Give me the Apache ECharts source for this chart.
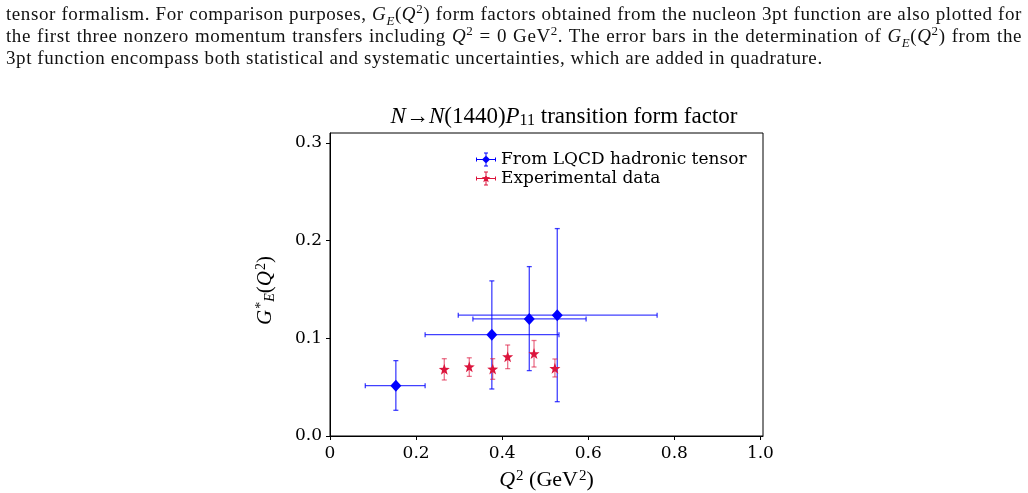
<!DOCTYPE html>
<html>
<head>
<meta charset="utf-8">
<script src="https://cdn.jsdelivr.net/npm/echarts@6/dist/echarts.min.js"></script>
<style>
  html, body { margin: 0; padding: 0; background: #fff; }
  #main { position: absolute; left: 0; top: 0; width: 1028px; height: 493px; }
  #para { position: absolute; left: 6px; top: 3px; width: 1016px; z-index: 2;
          font-family: "Liberation Serif", serif; font-size: 19px; letter-spacing: 0.58px;
          line-height: 22px; color: #111; }
  #para div { text-align: justify; text-align-last: justify; }
  #para div.last { text-align-last: left; }
  #para i { font-style: italic; }
  #para sub, #para sup { font-size: 13px; line-height: 0; }
</style>
</head>
<body>
<div id="para">
  <div>tensor formalism. For comparison purposes, <i>G</i><sub><i>E</i></sub>(<i>Q</i><sup>2</sup>) form factors obtained from the nucleon 3pt function are also plotted for</div>
  <div>the first three nonzero momentum transfers including <i>Q</i><sup>2</sup> = 0 GeV<sup>2</sup>. The error bars in the determination of <i>G</i><sub><i>E</i></sub>(<i>Q</i><sup>2</sup>) from the</div>
  <div class="last">3pt function encompass both statistical and systematic uncertainties, which are added in quadrature.</div>
</div>
<div id="main"></div>
<script>
//数据: LQCD hadronic tensor
var lqcdQ2   = [0.153, 0.376, 0.463, 0.528];
var lqcdG    = [0.0515, 0.1037, 0.1198, 0.1236];
var lqcdQ2Lo = [0.082, 0.221, 0.332, 0.298];
var lqcdQ2Hi = [0.221, 0.532, 0.595, 0.760];
var lqcdGLo  = [0.0263, 0.0481, 0.0669, 0.0351];
var lqcdGHi  = [0.0771, 0.1587, 0.1733, 0.2122];

//数据: experimental
var expQ2  = [0.2655, 0.3236, 0.378, 0.4128, 0.474, 0.5225];
var expG   = [0.0683, 0.0709, 0.0686, 0.0812, 0.0843, 0.0692];
var expGLo = [0.0573, 0.0610, 0.0580, 0.0689, 0.0706, 0.0604];
var expGHi = [0.0791, 0.0800, 0.0791, 0.0931, 0.0977, 0.0788];

var xTicks = [0, 0.2, 0.4, 0.6, 0.8, 1.0];
var yTicks = [0, 0.1, 0.2, 0.3];

var BLUE = '#0000ff', RED = '#dc143c';
var starPath = 'path://M10,3L10.94,5.71L13.8,5.76L11.52,7.49L12.35,10.24L10,8.6L7.65,10.24L8.48,7.49L6.2,5.76L9.06,5.71Z';
var crossPath = 'M0,6.5h20v1h-20ZM9.5,0h1v14h-1ZM0,5h1v4h-1ZM19,5h1v4h-1ZM8,0h4v1h-4ZM8,13h4v1h-4Z';
var legendBlue = 'path://' + crossPath + 'M10,3L14,7L10,11L6,7Z';
var legendRed = 'path://' + crossPath + 'M10,2.5L11.1,5.6L14.3,5.7L11.8,7.6L12.7,10.7L10,8.9L7.3,10.7L8.2,7.6L5.7,5.7L8.9,5.6Z';

function zipErr(x, y, xlo, xhi, ylo, yhi){
    var arr = [];
    for(var i = 0;i<x.length;i++){
        arr.push([x[i], y[i], xlo ? xlo[i] : x[i], xhi ? xhi[i] : x[i], ylo[i], yhi[i]]);
    }
    return arr;
}
function zipXY(x, y){
    var arr = [];
    for(var i = 0;i<x.length;i++){
        arr.push([x[i], y[i]]);
    }
    return arr;
}

// 误差棒
function errRender(color, opacity, cap){
    return function(params, api){
        var c = api.coord([api.value(0), api.value(1)]);
        var l = api.coord([api.value(2), api.value(1)]);
        var r = api.coord([api.value(3), api.value(1)]);
        var b = api.coord([api.value(0), api.value(4)]);
        var t = api.coord([api.value(0), api.value(5)]);
        var st = {stroke: color, lineWidth: 1.3, opacity: opacity};
        var kids = [
            {type: 'line', shape: {x1: c[0], y1: b[1], x2: c[0], y2: t[1]}, style: st},
            {type: 'line', shape: {x1: c[0]-cap, y1: b[1], x2: c[0]+cap, y2: b[1]}, style: st},
            {type: 'line', shape: {x1: c[0]-cap, y1: t[1], x2: c[0]+cap, y2: t[1]}, style: st}
        ];
        if(r[0] - l[0] > 0.5){
            kids.push({type: 'line', shape: {x1: l[0], y1: c[1], x2: r[0], y2: c[1]}, style: st});
            kids.push({type: 'line', shape: {x1: l[0], y1: c[1]-cap, x2: l[0], y2: c[1]+cap}, style: st});
            kids.push({type: 'line', shape: {x1: r[0], y1: c[1]-cap, x2: r[0], y2: c[1]+cap}, style: st});
        }
        return {type: 'group', children: kids};
    };
}

var serif = 'DejaVu Serif';
var latex = 'Liberation Serif';

function richSet(size){
    return {
        n: {fontFamily: latex, fontSize: size, fontWeight: 'normal', color: '#000', lineHeight: 26},
        i: {fontFamily: latex, fontSize: size, fontWeight: 'normal', fontStyle: 'italic', color: '#000', lineHeight: 26},
        sup: {fontFamily: latex, fontSize: Math.round(size*0.68), fontWeight: 'normal', color: '#000', verticalAlign: 'top', lineHeight: 26, padding: [2, 0, 0, 1]},
        sub: {fontFamily: latex, fontSize: Math.round(size*0.68), fontWeight: 'normal', color: '#000', verticalAlign: 'bottom', lineHeight: 26, padding: [0, 0, 1, 0]},
        subi: {fontFamily: latex, fontSize: Math.round(size*0.68), fontWeight: 'normal', fontStyle: 'italic', color: '#000', verticalAlign: 'bottom', lineHeight: 26, padding: [0, 0, 1, 0]}
    };
}

var myChart = echarts.init(document.getElementById('main'));
var option = {
    animation: false,
    title: {
        text: '{i|N}{n|→}{i|N}{n|(1440)}{i|P}{sub|11}{n| transition form factor}',
        left: 559,
        top: 99,
        textAlign: 'center',
        textStyle: {fontWeight: 'normal', rich: richSet(23)}
    },
    legend: {
        orient: 'vertical',
        left: 471,
        top: 146,
        itemWidth: 20,
        itemHeight: 14,
        itemGap: 2,
        textStyle: {fontFamily: serif, fontSize: 17, color: '#000'},
        data: [
            {name: 'From LQCD hadronic tensor', icon: legendBlue, itemStyle: {color: BLUE}},
            {name: 'Experimental data', icon: legendRed, itemStyle: {color: RED}}
        ]
    },
    grid: {
        left: 330,
        top: 133,
        width: 433,
        height: 303,
        outerBoundsMode: 'none',
        containLabel: false,
        show: true,
        borderColor: '#000',
        borderWidth: 1
    },
    xAxis: {
        type: 'value',
        min: 0,
        max: 1.006,
        interval: 0.2,
        axisLine: {show: true, lineStyle: {color: '#000', width: 1}},
        axisTick: {show: true, length: 4, lineStyle: {color: '#000'}, customValues: xTicks},
        splitLine: {show: false},
        axisLabel: {
            customValues: xTicks,
            margin: 9,
            fontFamily: serif, fontSize: 17, color: '#000',
            formatter: function(v){ return v === 0 ? '0' : v.toFixed(1); }
        },
        name: '{i|Q}{sup|2}{n| (GeV}{sup|2}{n|)}',
        nameLocation: 'middle',
        nameGap: 24,
        nameTextStyle: {rich: richSet(22)}
    },
    yAxis: {
        type: 'value',
        min: 0,
        max: 0.31,
        interval: 0.1,
        axisLine: {show: true, lineStyle: {color: '#000', width: 1}},
        axisTick: {show: true, length: 4, lineStyle: {color: '#000'}, customValues: yTicks},
        splitLine: {show: false},
        axisLabel: {
            customValues: yTicks,
            margin: 8,
            fontFamily: serif, fontSize: 17, color: '#000',
            formatter: function(v){ return v.toFixed(1); }
        },
        name: '{i|G}{sup|*}{subi|E}{n|(}{i|Q}{sup|2}{n|)}',
        nameLocation: 'middle',
        nameRotate: 90,
        nameGap: 52,
        nameTextStyle: {padding: [0, 12, 0, 0], rich: richSet(21)}
    },
    series: [
        {
            name: 'From LQCD hadronic tensor',
            type: 'custom',
            renderItem: errRender(BLUE, 0.75, 2.5),
            encode: {x: [0, 2, 3], y: [1, 4, 5]},
            data: zipErr(lqcdQ2, lqcdG, lqcdQ2Lo, lqcdQ2Hi, lqcdGLo, lqcdGHi),
            z: 2
        },
        {
            name: 'Experimental data',
            type: 'custom',
            renderItem: errRender(RED, 0.6, 2.5),
            encode: {x: [0, 2, 3], y: [1, 4, 5]},
            data: zipErr(expQ2, expG, null, null, expGLo, expGHi),
            z: 2
        },
        {
            name: 'From LQCD hadronic tensor',
            type: 'scatter',
            symbol: 'diamond',
            symbolSize: [11, 12],
            itemStyle: {color: BLUE, opacity: 1},
            data: zipXY(lqcdQ2, lqcdG),
            z: 3
        },
        {
            name: 'Experimental data',
            type: 'scatter',
            symbol: starPath,
            symbolSize: 11,
            itemStyle: {color: RED, opacity: 1},
            data: zipXY(expQ2, expG),
            z: 3
        }
    ]
};
myChart.setOption(option);
</script>
</body>
</html>
